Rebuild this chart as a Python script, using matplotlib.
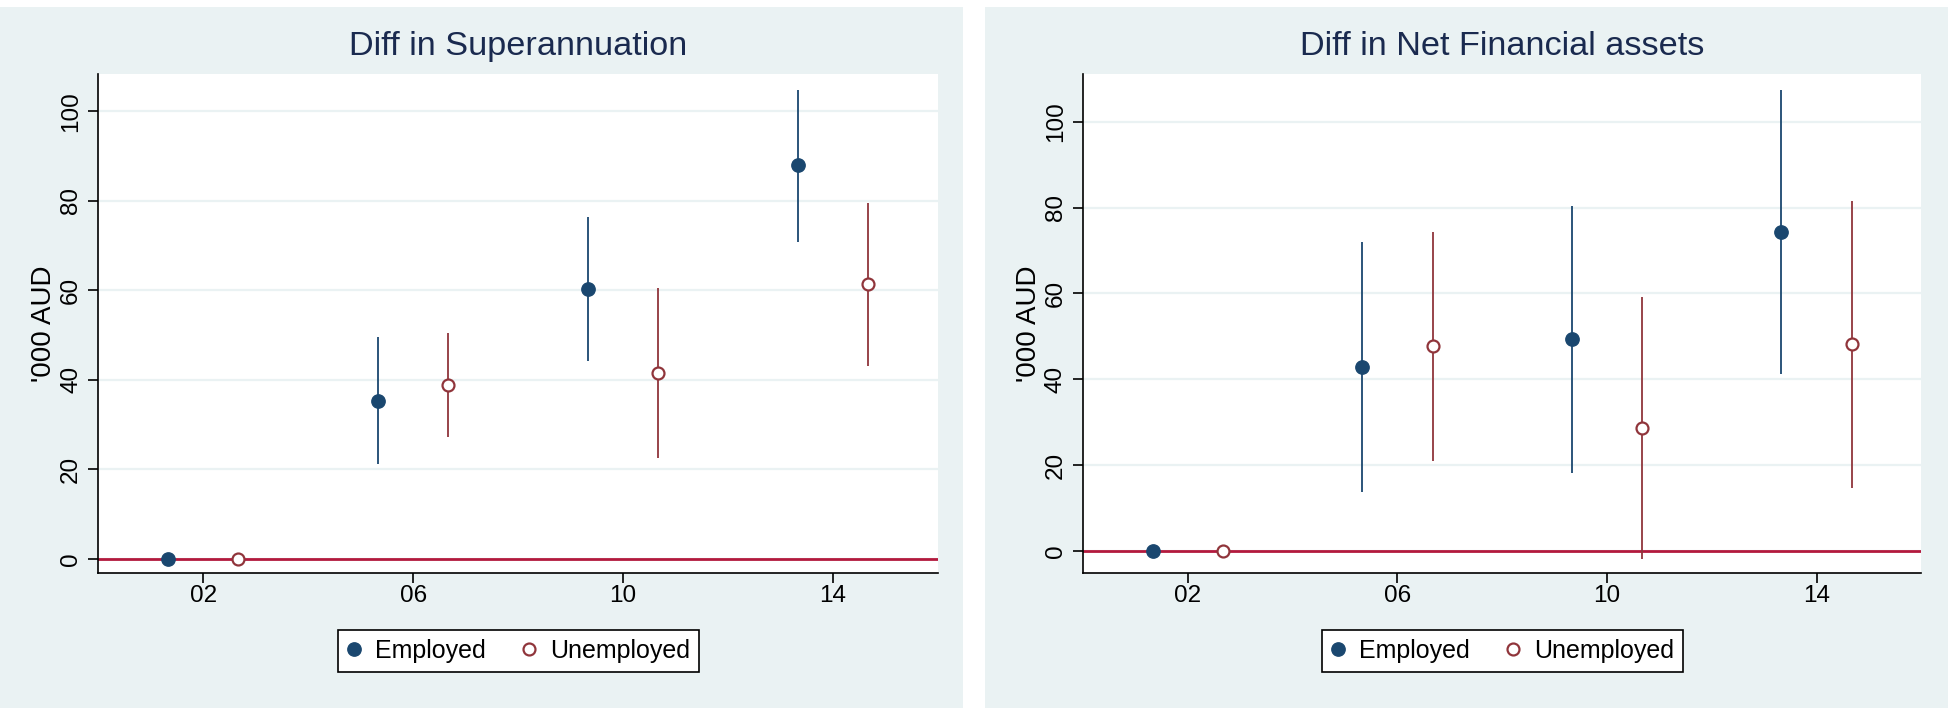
import matplotlib
matplotlib.use("Agg")
import matplotlib.pyplot as plt
from matplotlib.patches import Rectangle

plt.rcParams['font.family'] = ['Liberation Sans', 'DejaVu Sans']

# x positions (waves offset so the two groups sit side by side)
x_emp = [1.33, 5.33, 9.33, 13.33]
x_unemp = [2.67, 6.67, 10.67, 14.67]
tick_pos = [2, 6, 10, 14]
tick_labels = ["02", "06", "10", "14"]

# Diff in Superannuation
super_emp = [0, 35.3, 60.2, 87.9]
super_emp_lo = [0, 21.1, 44.1, 70.8]
super_emp_hi = [0, 49.5, 76.3, 104.7]
super_unemp = [0, 38.8, 41.6, 61.3]
super_unemp_lo = [0, 27.3, 22.6, 43.0]
super_unemp_hi = [0, 50.4, 60.6, 79.6]

# Diff in Net Financial assets
nfa_emp = [0, 42.9, 49.3, 74.2]
nfa_emp_lo = [0, 13.8, 18.1, 41.2]
nfa_emp_hi = [0, 72.0, 80.3, 107.4]
nfa_unemp = [0, 47.7, 28.7, 48.1]
nfa_unemp_lo = [0, 20.9, -1.8, 14.7]
nfa_unemp_hi = [0, 74.3, 59.2, 81.6]

navy = '#1a476f'
maroon = '#90353b'
zero_red = '#b3193d'
bg = '#eaf2f3'

fig = plt.figure(figsize=(19.52, 7.08), dpi=100)
fig.patch.set_facecolor('white')

# panel backgrounds
fig.patches.append(Rectangle((0, 0), 963 / 1952, 701 / 708, transform=fig.transFigure,
                             facecolor=bg, edgecolor='none', zorder=-10))
fig.patches.append(Rectangle((985 / 1952, 0), 963 / 1952, 701 / 708, transform=fig.transFigure,
                             facecolor=bg, edgecolor='none', zorder=-10))

panels = [
    ("Diff in Superannuation", [98.3 / 1952, 0.1903, 0.4302, 0.7045], (-3.2, 108.2),
     super_emp, super_emp_lo, super_emp_hi, super_unemp, super_unemp_lo, super_unemp_hi),
    ("Diff in Net Financial assets", [1083 / 1952, 0.1903, 0.4295, 0.7045], (-5.24, 111.0),
     nfa_emp, nfa_emp_lo, nfa_emp_hi, nfa_unemp, nfa_unemp_lo, nfa_unemp_hi),
]

for title, rect, ylim, emp, emp_lo, emp_hi, un, un_lo, un_hi in panels:
    ax = fig.add_axes(rect)
    ax.set_facecolor('white')

    # zero reference line
    ax.axhline(0, color=zero_red, lw=2.0, zorder=2)

    # confidence intervals
    ax.vlines(x_emp, emp_lo, emp_hi, color=navy, lw=1.3, zorder=3)
    ax.vlines(x_unemp, un_lo, un_hi, color=maroon, lw=1.3, zorder=3)

    # point estimates
    ax.plot(x_emp, emp, 'o', color=navy, ms=9.6, zorder=4, label='Employed')
    ax.plot(x_unemp, un, 'o', mfc='white', mec=maroon, mew=1.6, ms=8.6, zorder=4,
            label='Unemployed')

    ax.set_xlim(0, 16)
    ax.set_ylim(*ylim)
    ax.set_xticks(tick_pos)
    ax.set_xticklabels(tick_labels)
    ax.set_yticks([0, 20, 40, 60, 80, 100])
    ax.yaxis.grid(True, color=bg, lw=1.6, zorder=0)
    ax.set_axisbelow(True)
    for lbl in ax.get_yticklabels():
        lbl.set_rotation(90)
        lbl.set_va('center')
    ax.tick_params(axis='both', length=7.2, width=1.2, labelsize=17.5, color='black')
    ax.tick_params(axis='y', pad=4.5)
    ax.tick_params(axis='x', pad=1)

    ax.spines['top'].set_visible(False)
    ax.spines['right'].set_visible(False)
    ax.spines['left'].set_linewidth(1.2)
    ax.spines['bottom'].set_linewidth(1.2)

    ax.set_ylabel("'000 AUD", fontsize=20, labelpad=2)
    ax.set_title(title, fontsize=24.7, color='#1a2a4f', pad=14)

    cx = rect[0] + rect[2] / 2
    leg = fig.legend(*ax.get_legend_handles_labels(), loc='center',
                     bbox_to_anchor=(cx, (708 - 650.8) / 708), ncol=2, fontsize=18,
                     frameon=True, fancybox=False, edgecolor='black', framealpha=1,
                     handletextpad=0.54, columnspacing=1.42, borderpad=0.35,
                     handlelength=0.6)
    leg.get_frame().set_linewidth(1.2)

plt.savefig('out.png', dpi=100, facecolor=fig.get_facecolor())
